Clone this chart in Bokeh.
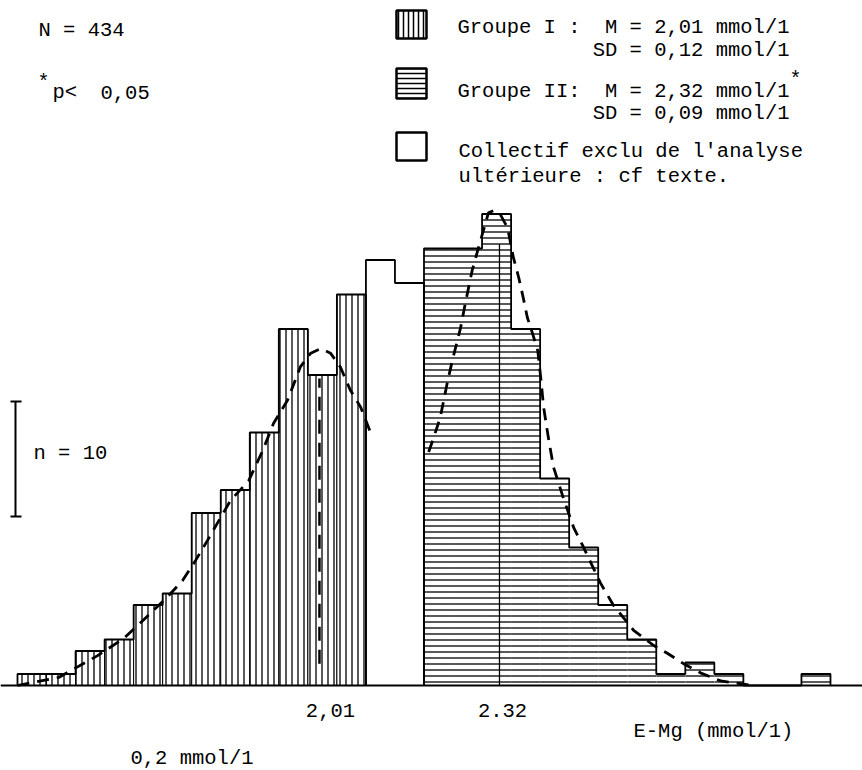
from bokeh.plotting import figure
from bokeh.models import Range1d, Label, BoxAnnotation, Span
from bokeh.core.properties import value
from bokeh.embed import file_html
from bokeh.resources import INLINE

# ---------------- data ----------------
bin_width = 0.05  # mmol/l

group1_lo = [1.49, 1.54, 1.59, 1.64, 1.69, 1.74, 1.79, 1.84, 1.89, 1.94, 1.99, 2.04]
group1_n = [1, 1, 3, 4, 7, 8, 15, 17, 22, 31, 27, 34]

excl_lo = [2.09, 2.14]
excl_n = [37, 35]

group2_lo = [2.19, 2.24, 2.29, 2.34, 2.39, 2.44, 2.49, 2.54, 2.59, 2.64, 2.69, 2.74, 2.79, 2.84]
group2_n = [38, 38, 41, 31, 18, 12, 7, 4, 1, 2, 1, 0, 0, 1]

curve1_x = [1.490, 1.561, 1.628, 1.673, 1.707, 1.748, 1.774, 1.797, 1.817, 1.834, 1.857, 1.888,
            1.912, 1.931, 1.955, 1.977, 1.995, 2.012, 2.029, 2.046, 2.063, 2.081, 2.098]
curve1_y = [0, 0.7, 2.6, 4.1, 5.7, 7.7, 9.1, 10.9, 12.6, 14.1, 16.1, 17.8,
            20.4, 22.8, 24.8, 27.7, 28.9, 29.3, 28.9, 27.7, 25.7, 24.2, 22.0]

curve2_x = [2.198, 2.205, 2.218, 2.230, 2.239, 2.253, 2.261, 2.273, 2.284, 2.301, 2.310, 2.322,
            2.334, 2.344, 2.353, 2.361, 2.368, 2.377, 2.386, 2.391, 2.396, 2.404, 2.413, 2.430,
            2.448, 2.463, 2.494, 2.516, 2.551, 2.585, 2.609, 2.637, 2.666, 2.701, 2.757]
curve2_y = [20.3, 21.3, 23.3, 26.3, 28.3, 31.1, 33.2, 36.1, 38.1, 41.1, 41.3, 40.9,
            39.8, 37.2, 35.5, 33.7, 32.0, 30.6, 29.1, 26.8, 24.2, 21.6, 19.0, 16.3,
            13.7, 12.2, 8.9, 7.0, 4.8, 3.5, 2.8, 1.9, 1.1, 0.4, 0]

means = [2.01, 2.32]
mean_labels = ["2,01", "2.32"]
mean_line_bottom = [1.9, 0]
mean_line_top = [26.7, 38.4]

N_total = 434
scale_n = 10

txt_N = f"N = {N_total}"
txt_p = ["p<", "0,05"]
leg1 = ["Groupe I :", "M = 2,01 mmol/1", "SD = 0,12 mmol/1"]
leg2 = ["Groupe II:", "M = 2,32 mmol/1", "SD = 0,09 mmol/1"]
leg3 = ["Collectif exclu de l'analyse", "ultérieure : cf texte."]
txt_scale = f"n = {scale_n}"
txt_xlabel = "E-Mg (mmol/1)"
txt_xscale = "0,2 mmol/1"

# ---------------- layout helpers (page pixels -> data) ----------------
W, H = 862, 770
PX_PER_MMOL = 580.7
PX_PER_N = 11.5
LEFT_PX = 17.0
BASE_PX = 685.0
TEXT_SHIFT = 7  # compensates the renderer's baseline offset


def dx(px):
    return group1_lo[0] + (px - LEFT_PX) / PX_PER_MMOL


def dy(py):
    return (BASE_PX - py) / PX_PER_N


FONT = "Liberation Mono"
FS = "20.5px"

p = figure(width=W, height=H, output_backend="svg", toolbar_location=None,
           x_range=Range1d(dx(0), dx(W)), y_range=Range1d(dy(H), dy(0)),
           min_border=0, x_axis_location=None, y_axis_location=None)
p.outline_line_color = None
p.grid.visible = False
p.background_fill_color = "white"


def right_edges(lo):
    return [v + bin_width for v in lo]


def envelope(lo, n):
    xs, ys = [lo[0]], [0]
    for l, c in zip(lo, n):
        xs += [l, l + bin_width]
        ys += [c, c]
    xs.append(lo[-1] + bin_width)
    ys.append(0)
    return xs, ys


# Group I: vertical hatch
p.quad(left=group1_lo, right=right_edges(group1_lo), bottom=0, top=group1_n,
       fill_color="white", hatch_pattern="vertical_line", hatch_color="black",
       hatch_scale=6, hatch_weight=1.3, line_color="black", line_width=1)
# excluded collective: white
p.quad(left=excl_lo, right=right_edges(excl_lo), bottom=0, top=excl_n,
       fill_color="white", line_color=None)
# Group II: horizontal hatch
g2 = [(l, c) for l, c in zip(group2_lo, group2_n) if c > 0]
p.quad(left=[l for l, c in g2], right=[l + bin_width for l, c in g2], bottom=0,
       top=[c for l, c in g2], fill_color="white", hatch_pattern="horizontal_line",
       hatch_color="black", hatch_scale=6, hatch_weight=1.3, line_color=None)

for lo, n in ((group1_lo, group1_n), (excl_lo, excl_n), (group2_lo, group2_n)):
    ex, ey = envelope(lo, n)
    p.line(ex, ey, line_color="black", line_width=1.8)

# baseline (x axis line)
p.add_layout(Span(location=0, dimension="width", line_color="black", line_width=2))

# mean lines
p.segment(x0=[means[0]], y0=[mean_line_bottom[0]], x1=[means[0]], y1=[mean_line_top[0]],
          line_color="black", line_width=2.5, line_dash="14 9")
p.segment(x0=[means[1]], y0=[mean_line_bottom[1]], x1=[means[1]], y1=[mean_line_top[1]],
          line_color="black", line_width=1.3)

# tick labels at the means
p.text(x=means, y=[dy(717 - TEXT_SHIFT)] * len(means), text=mean_labels, x_offset=[11, 3],
       text_font=value(FONT), text_font_size=FS, text_color="black",
       text_align="center", text_baseline="alphabetic")

# fitted curves (hand-drawn dashed)
p.line(curve1_x, curve1_y, line_color="black", line_width=2.8, line_dash="12 8")
p.line(curve2_x, curve2_y, line_color="black", line_width=2.8, line_dash="12 8")

# scale bar n = 10
scale_lo = dy(516)
p.segment(x0=[dx(15)], y0=[scale_lo], x1=[dx(15)], y1=[scale_lo + scale_n],
          line_color="black", line_width=2)
p.segment(x0=[dx(10), dx(10)], y0=[scale_lo, scale_lo + scale_n],
          x1=[dx(21), dx(21)], y1=[scale_lo, scale_lo + scale_n],
          line_color="black", line_width=2)

# legend swatches
for top, bot, hatch in ((10, 38, "vertical_line"), (68, 98, "horizontal_line"), (132, 160, None)):
    kw = dict(left=dx(396), right=dx(426), top=dy(top), bottom=dy(bot),
              fill_color="white", fill_alpha=1, line_color="black", line_alpha=1, line_width=2.5)
    if hatch:
        kw.update(hatch_pattern=hatch, hatch_color="black", hatch_scale=5, hatch_weight=1.5)
    p.add_layout(BoxAnnotation(**kw))


def label(px, py, text, align="left", size=FS):
    p.add_layout(Label(x=dx(px), y=dy(py - TEXT_SHIFT), text=text, text_font=FONT,
                       text_font_size=size, text_color="black", text_align=align,
                       text_baseline="alphabetic"))


label(38, 37, txt_N)
label(37, 89, "*", size="20px")
label(52, 99, txt_p[0])
label(100, 99, txt_p[1])

label(457, 34, leg1[0])
label(789, 34, leg1[1], align="right")
label(789, 57, leg1[2], align="right")
label(457, 98, leg2[0])
label(789, 98, leg2[1], align="right")
label(789, 86, "*", size="20px")
label(789, 120, leg2[2], align="right")
label(458, 158, leg3[0])
label(458, 183, leg3[1])

label(33, 460, txt_scale)
label(633, 738, txt_xlabel)
label(130, 765, txt_xscale)

open("out.html", "w").write(file_html(p, INLINE))
